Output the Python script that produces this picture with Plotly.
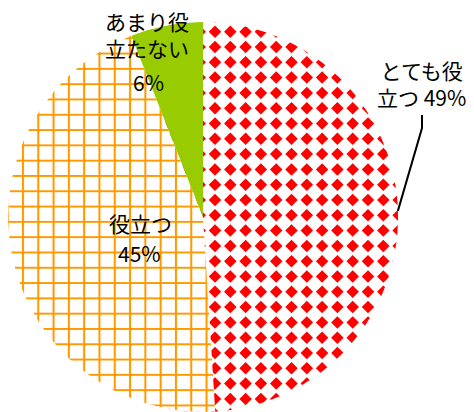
import math
import numpy as np
import plotly.graph_objects as go

# Survey answers and their shares (%)
labels = ["とても役立つ", "役立つ", "あまり役立たない"]
values = [49, 45, 6]
slice_colors = ["#FF0000", "#FF9900", "#99CC00"]

W, H = 474, 412
cx, cy, r = 203, 217, 195   # pie centre and radius in pixels
step = 15.3                 # spacing of the diamond texture in the first slice

fig = go.Figure()

# Diamond texture for the first slice: a square lattice of diamond markers
# sitting underneath the pie; the first slice is left transparent so the
# texture shows through it, the other slices are opaque and hide it.
gx = np.arange(215 - 3 * step, cx + r + step, step)
gy = np.arange(31.7 - 2 * step, H + step, step)
GX, GY = np.meshgrid(gx, gy)
fig.add_trace(go.Scatter(
    x=GX.ravel(), y=GY.ravel(), mode="markers", hoverinfo="skip",
    marker=dict(symbol="diamond", size=9.6, color=slice_colors[0], line=dict(width=0)),
))

fig.add_trace(go.Pie(
    labels=labels,
    values=values,
    sort=False,
    direction="clockwise",
    rotation=0,
    textinfo="none",
    hoverinfo="label+percent",
    domain=dict(x=[(cx - r) / W, (cx + r) / W], y=[1 - (cy + r) / H, 1 - (cy - r) / H]),
    marker=dict(
        colors=["rgba(0,0,0,0)", slice_colors[1], slice_colors[2]],
        line=dict(width=0),
        pattern=dict(
            shape=["", "+", ""],
            fgcolor=slice_colors,
            bgcolor=["rgba(0,0,0,0)", "white", slice_colors[2]],
            size=15.3,
            solidity=0.25,
            fillmode="replace",
        ),
    ),
))

total = sum(values)
pct = [round(v * 100 / total) for v in values]


def px(x, y):
    return x / W, 1 - y / H


# white surround that trims the texture to the pie's outline
ring = []
for k in range(361):
    a = 2 * math.pi * k / 360
    ring.append(px(cx + r * math.cos(a), cy + r * math.sin(a)))
mask = "M -0.1,-0.1 L 1.1,-0.1 L 1.1,1.1 L -0.1,1.1 Z M " + " L ".join(
    f"{x:.5f},{y:.5f}" for x, y in ring) + " Z"
fig.add_shape(type="path", xref="paper", yref="paper", path=mask, layer="above",
              fillcolor="white", fillrule="evenodd", line=dict(width=0))

font = dict(family="Noto Sans CJK JP", size=21, color="black")


def label(text, x, y, size=21):
    ax, ay = px(x, y)
    fig.add_annotation(x=ax, y=ay, xref="paper", yref="paper", text=text,
                       showarrow=False, xanchor="center", yanchor="middle",
                       font=dict(font, size=size))


label(f"とても役<br>立つ {pct[0]}%", 421, 83)
label("あまり役<br>立たない", 147, 35)
label(f"{pct[2]}%", 148, 82)
label("役立つ", 140, 223)
label(f"{pct[1]}%", 139, 253)

# leader line from the first label down to the middle of its slice's rim
mid = 2 * math.pi * (values[0] / 2) / total
ex, ey = cx + r * math.sin(mid), cy - r * math.cos(mid)
p1, p2, p3 = px(422, 115), px(422, 128), px(ex, ey)
fig.add_shape(type="path", xref="paper", yref="paper", layer="above",
              path=f"M {p1[0]},{p1[1]} L {p2[0]},{p2[1]} L {p3[0]},{p3[1]}",
              line=dict(color="black", width=2))

fig.update_layout(
    width=W, height=H,
    margin=dict(l=0, r=0, t=0, b=0),
    paper_bgcolor="white",
    plot_bgcolor="white",
    showlegend=False,
    xaxis=dict(range=[0, W], domain=[0, 1], visible=False, fixedrange=True),
    yaxis=dict(range=[H, 0], domain=[0, 1], visible=False, fixedrange=True),
)

fig.write_html("out.html")
